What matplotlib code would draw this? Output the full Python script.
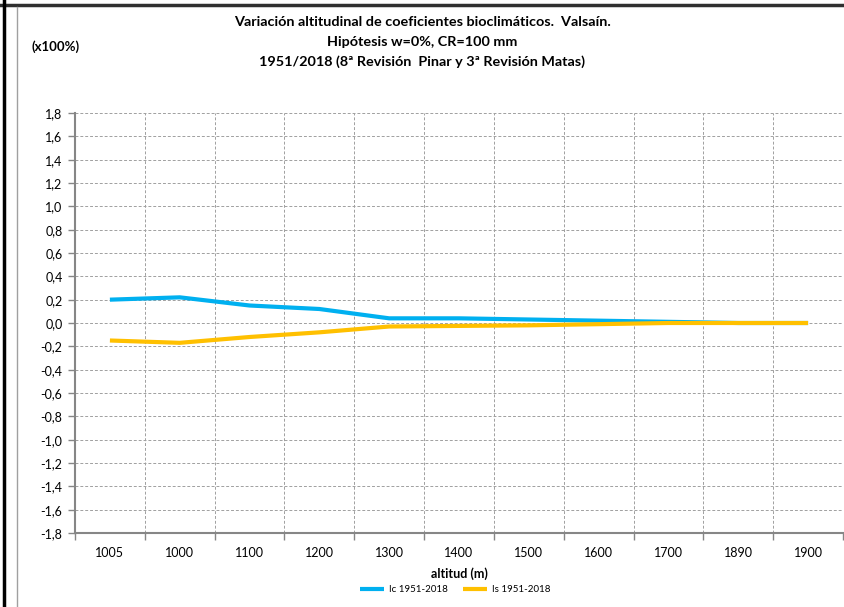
import numpy as np
import matplotlib.pyplot as plt
from matplotlib.lines import Line2D

altitudes = ["1005", "1000", "1100", "1200", "1300", "1400", "1500", "1600", "1700", "1890", "1900"]
ic_values = [0.20, 0.22, 0.15, 0.12, 0.04, 0.04, 0.03, 0.02, 0.01, 0.00, 0.00]
is_values = [-0.15, -0.17, -0.12, -0.08, -0.03, -0.025, -0.02, -0.01, 0.00, 0.00, 0.00]
y_ticks = np.round(np.arange(-1.8, 1.81, 0.2), 1)

plt.rcParams['font.family'] = ['Lato', 'DejaVu Sans']

fig = plt.figure(figsize=(8.44, 6.07), dpi=100)
ax = fig.add_axes([75 / 844, 1 - 533 / 607, 768 / 844, 420 / 607])

x = np.arange(len(altitudes))
ax.plot(x, ic_values, color="#00B0F0", lw=3, label="Ic 1951-2018", solid_capstyle="butt")
ax.plot(x, is_values, color="#FFC000", lw=3, label="Is 1951-2018", solid_capstyle="butt")

ax.set_xlim(-0.5, len(altitudes) - 0.5)
ax.set_ylim(-1.8, 1.8)
ax.set_yticks(y_ticks)
ax.set_yticklabels([f"{v:.1f}".replace(".", ",").replace("-0,0", "0,0") for v in y_ticks])

ax.set_xticks(np.arange(-0.5, len(altitudes), 1.0))
ax.set_xticklabels([])
ax.set_xticks(x, minor=True)
ax.set_xticklabels(altitudes, minor=True)
ax.tick_params(axis="x", which="major", length=5, color="#868686", width=1)
ax.tick_params(axis="x", which="minor", length=0, pad=10, labelsize=9)
ax.tick_params(axis="y", length=5, color="#868686", width=1, labelsize=9, pad=4)

ax.grid(True, which="major", color="#a0a0a0", linestyle=(0, (3, 2)), lw=0.7)
ax.set_axisbelow(True)
for side in ["top", "right"]:
    ax.spines[side].set_visible(False)
for side in ["left", "bottom"]:
    ax.spines[side].set_color("#868686")
    ax.spines[side].set_linewidth(1.5)

ax.set_xlabel("altitud (m)", fontsize=9, fontweight="bold", labelpad=6)
ax.legend(loc="upper center", bbox_to_anchor=(0.495, -0.104), ncol=2, frameon=False,
          fontsize=7, handlelength=2.5, columnspacing=1.5, handletextpad=0.5)

fig.text(0.5, 1 - 22 / 607, "Variación altitudinal de coeficientes bioclimáticos.  Valsaín.",
         ha="center", va="center", fontsize=10.4, fontweight="bold")
fig.text(0.5, 1 - 42 / 607, "Hipótesis w=0%, CR=100 mm",
         ha="center", va="center", fontsize=10.4, fontweight="bold")
fig.text(0.5, 1 - 62 / 607, "1951/2018 (8ª Revisión  Pinar y 3ª Revisión Matas)",
         ha="center", va="center", fontsize=10.4, fontweight="bold")
fig.text(32 / 844, 1 - 47 / 607, "(x100%)", ha="left", va="center", fontsize=9.5, fontweight="bold")

# outer frame
fig.add_artist(Line2D([0, 1], [1 - 5 / 607, 1 - 5 / 607], color="#303030", lw=2.5))
fig.add_artist(Line2D([3.5 / 844, 3.5 / 844], [0, 1], color="black", lw=2.5))
fig.add_artist(Line2D([17 / 844, 17 / 844], [0, 1 - 7 / 607], color="#a0a0a0", lw=1))

fig.savefig("out.png", dpi=100)
